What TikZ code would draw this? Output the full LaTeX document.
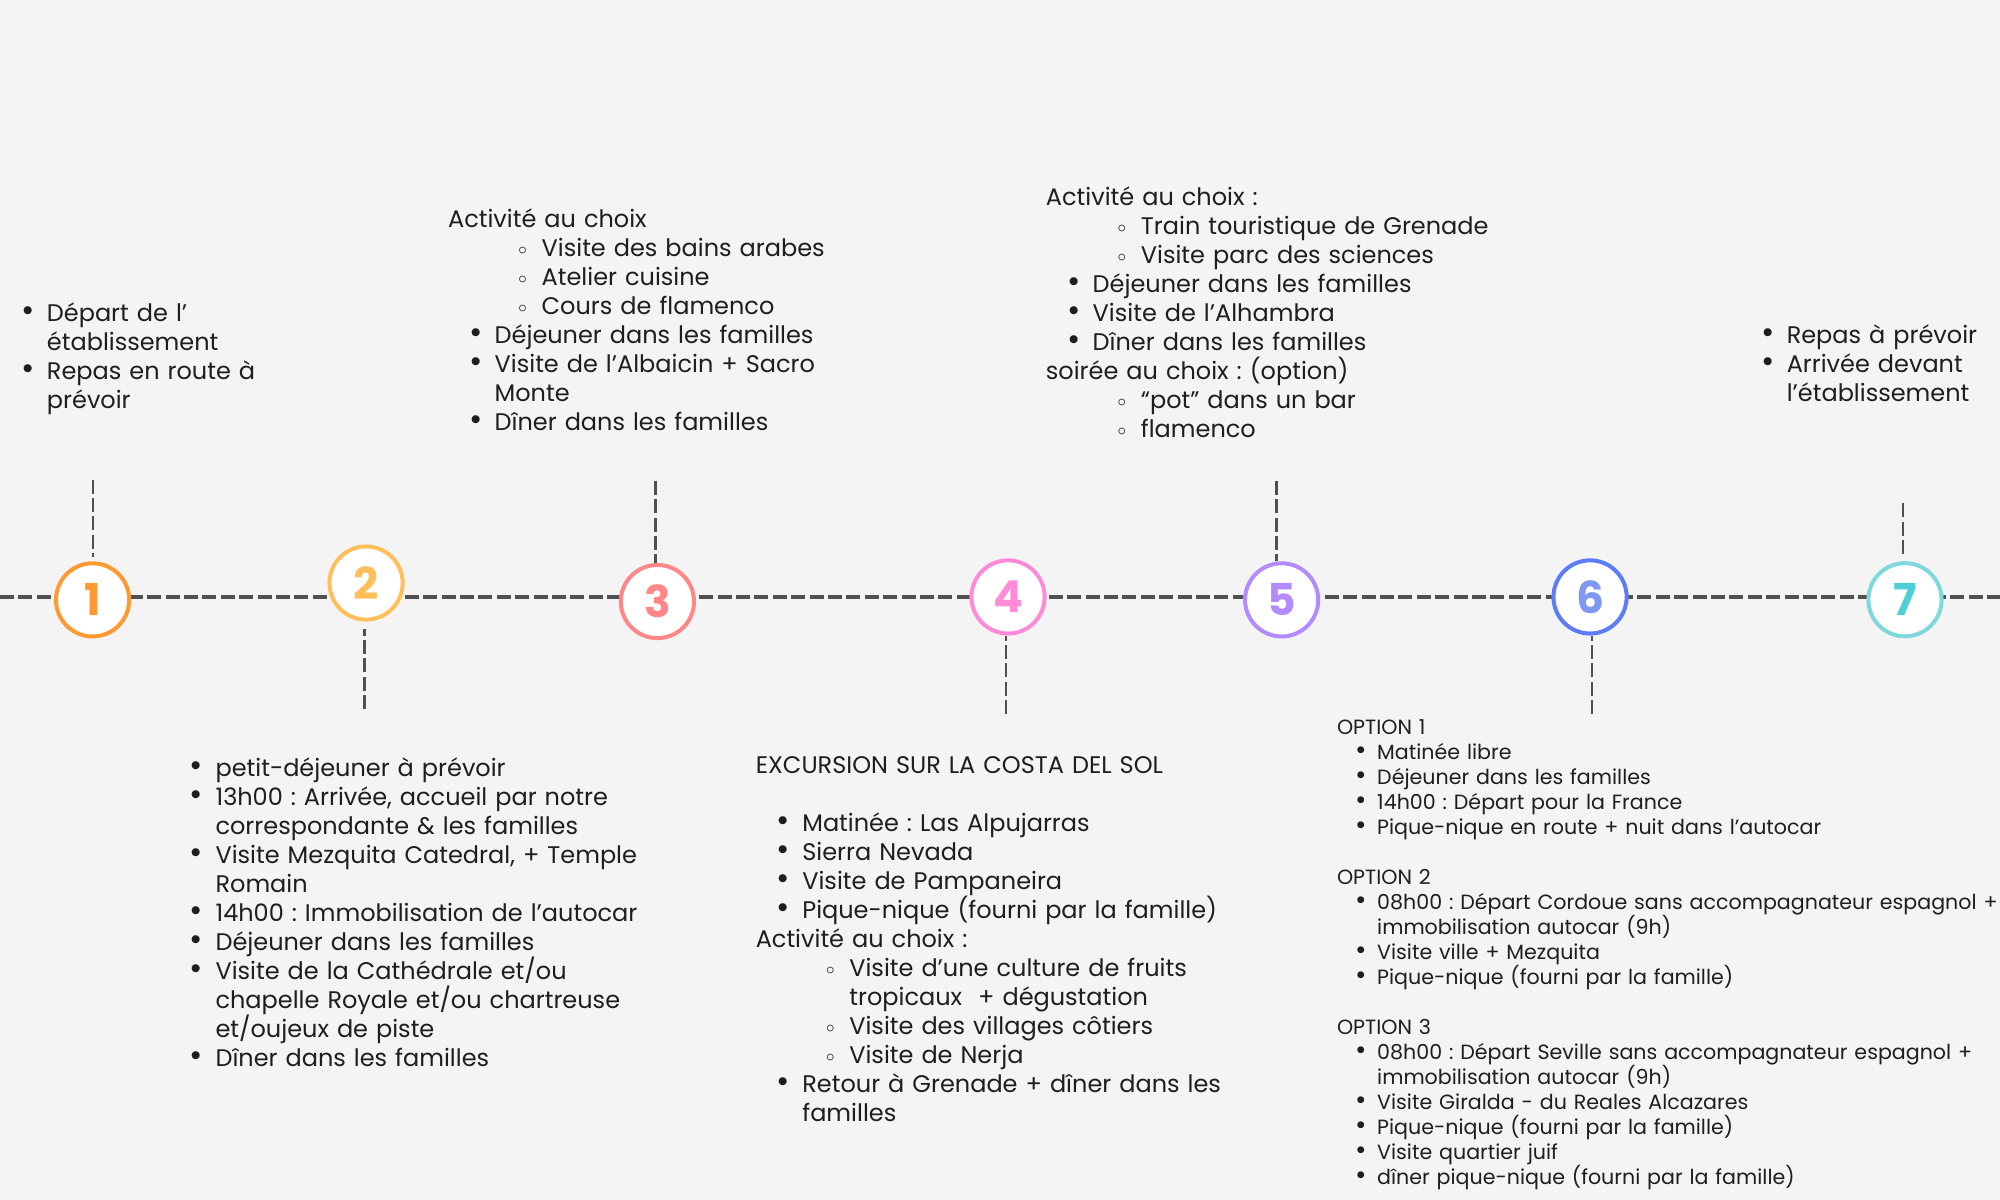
\documentclass[tikz,border=0pt]{standalone}
\usepackage{fontspec}
\setmainfont{Poppins}
\newfontfamily\chiffre{Poppins}
\frenchspacing
\normallineskiplimit=-100pt
\lineskiplimit=-100pt

\definecolor{fond}{HTML}{F4F4F4}
\definecolor{trait}{HTML}{505050}
\definecolor{texte}{HTML}{1E1E1E}
\definecolor{c1}{HTML}{FF9A33}
\definecolor{c2}{HTML}{FFC05C}
\definecolor{c3}{HTML}{FF8787}
\definecolor{c4}{HTML}{FF8AD8}
\definecolor{c5}{HTML}{B38BFF}
\definecolor{c6}{HTML}{5C7CFA}
\definecolor{c6n}{HTML}{7F98F2}
\definecolor{c7}{HTML}{7FD9DC}
\definecolor{c7n}{HTML}{4ECFD5}

\newlength{\puce}\setlength{\puce}{9.5pt}
\newcommand{\serre}{\lineskiplimit=-100pt\relax}
% puce pleine / puce creuse
\newcommand{\itm}[2]{\par\serre\noindent\hangindent=\dimexpr#1+\puce\relax\hspace*{#1}\makebox[\puce][l]{\makebox[0pt][c]{\scalebox{1.35}{\textbullet}}}\strut#2\par}
\newcommand{\sitm}[2]{\par\serre\noindent\hangindent=\dimexpr#1+\puce\relax\hspace*{#1}\makebox[\puce][l]{\makebox[0pt][c]{\raisebox{.15ex}{$\scriptstyle\circ$}}}\strut#2\par}
\newcommand{\titre}[1]{\par\serre\noindent\strut#1\par}
\newcommand{\vide}{\par\serre\noindent\strut\par}

\tikzset{
  liste/.style={anchor=north west,inner sep=0pt,text width=300pt,align=left,text=texte,
    font=\fontsize{12}{14.5}\selectfont},
  petite/.style={liste,text width=380pt,
    font=\fontsize{10.3}{12.5}\selectfont\setlength{\puce}{8.2pt}}
}

\begin{document}
\begin{tikzpicture}[x=0.6378pt,y=-0.6378pt]
        \useasboundingbox[fill=fond] (0,0) rectangle (1568,940.8);
        \coordinate (g) at (0,468);
        \coordinate (d) at (1568,468);
        \draw[trait,line width=1.6pt,dash pattern=on 7pt off 2.2pt] (g) -- (d);

        % jours
        \begin{scope}[every node/.style={circle,fill=white,line width=2pt,minimum size=36.6pt,inner sep=0pt,
            font=\chiffre\bfseries\fontsize{22}{22}\selectfont}]
        \node[draw=c1,text=c1] (n1) at (72.6,470.3) {1};
        \node[draw=c2,text=c2] (n2) at (287,457.1) {2};
        \node[draw=c3,text=c3] (n3) at (515.4,471.6) {3};
        \node[draw=c4,text=c4] (n4) at (790.3,468) {4};
        \node[draw=c5,text=c5] (n5) at (1004.8,470.3) {5};
        \node[draw=c6,text=c6n] (n6) at (1246.6,468) {6};
        \node[draw=c7,text=c7n] (n7) at (1493.5,470.2) {7};
        \end{scope}

        \coordinate (t1) at (72.8,376);
        \coordinate (b2) at (285.6,556);
        \coordinate (t3) at (513.8,377);
        \coordinate (b4) at (788.6,560);
        \coordinate (t5) at (1001,377);
        \coordinate (b6) at (1248,560);
        \coordinate (t7) at (1492,394.6);
        \begin{scope}[every edge/.style={draw=trait,line width=1.3pt,dash pattern=on 7pt off 2.2pt}]
        \path (t1) edge[shorten >=2.2pt] (t1 |- n1.north)
              (b2) edge[shorten >=3.5pt] (b2 |- n2.south)
              (t3) edge (t3 |- n3.north)
              (b4) edge (b4 |- n4.south)
              (t5) edge (t5 |- n5.north)
              (b6) edge (b6 |- n6.south)
              (t7) edge[shorten >=1.9pt] (t7 |- n7.north);
        \end{scope}

        % programme
        \node[liste] (j1) at (21.6,229.3) {%
          \itm{0pt}{Départ de l’\newline établissement}
          \itm{0pt}{Repas en route à\newline prévoir}};
        \node[liste] (j2) at (153.8,586) {%
          \itm{0pt}{petit-déjeuner à prévoir}
          \itm{0pt}{13h00 : Arrivée, accueil par notre\newline correspondante \& les familles}
          \itm{0pt}{Visite Mezquita Catedral, + Temple\newline Romain}
          \itm{0pt}{14h00 : Immobilisation de l’autocar}
          \itm{0pt}{Déjeuner dans les familles}
          \itm{0pt}{Visite de la Cathédrale et/ou\newline chapelle Royale et/ou chartreuse\newline et/oujeux de piste}
          \itm{0pt}{Dîner dans les familles}};
        \node[liste] (j3) at (351,155) {%
          \titre{Activité au choix}
          \sitm{37.3pt}{Visite des bains arabes}
          \sitm{37.3pt}{Atelier cuisine}
          \sitm{37.3pt}{Cours de flamenco}
          \itm{13.8pt}{Déjeuner dans les familles}
          \itm{13.8pt}{Visite de l’Albaicin + Sacro\newline Monte}
          \itm{13.8pt}{Dîner dans les familles}};
        \node[liste] (j4) at (592.2,583.4) {%
          \titre{EXCURSION SUR LA COSTA DEL SOL}
          \vide
          \itm{13.8pt}{Matinée : Las Alpujarras}
          \itm{13.8pt}{Sierra Nevada}
          \itm{13.8pt}{Visite de Pampaneira}
          \itm{13.8pt}{Pique-nique (fourni par la famille)}
          \titre{Activité au choix :}
          \sitm{37.3pt}{Visite d’une culture de fruits\newline tropicaux~ + dégustation}
          \sitm{37.3pt}{Visite des villages côtiers}
          \sitm{37.3pt}{Visite de Nerja}
          \itm{13.8pt}{Retour à Grenade + dîner dans les\newline familles}};
        \node[liste] (j5) at (819.7,138.4) {%
          \titre{Activité au choix :}
          \sitm{38pt}{Train touristique de Grenade}
          \sitm{38pt}{Visite parc des sciences}
          \itm{13.9pt}{Déjeuner dans les familles}
          \itm{13.9pt}{Visite de l’Alhambra}
          \itm{13.9pt}{Dîner dans les familles}
          \titre{soirée au choix : (option)}
          \sitm{38pt}{“pot” dans un bar}
          \sitm{38pt}{flamenco}};
        \node[petite] (j6) at (1047.9,556.3) {%
          \titre{OPTION 1}
          \itm{11.9pt}{Matinée libre}
          \itm{11.9pt}{Déjeuner dans les familles}
          \itm{11.9pt}{14h00 : Départ pour la France}
          \itm{11.9pt}{Pique-nique en route + nuit dans l’autocar}
          \vide
          \titre{OPTION 2}
          \itm{11.9pt}{08h00 : Départ Cordoue sans accompagnateur espagnol +\newline immobilisation autocar (9h)}
          \itm{11.9pt}{Visite ville + Mezquita}
          \itm{11.9pt}{Pique-nique (fourni par la famille)}
          \vide
          \titre{OPTION 3}
          \itm{11.9pt}{08h00 : Départ Seville sans accompagnateur espagnol +\newline immobilisation autocar (9h)}
          \itm{11.9pt}{Visite Giralda - du Reales Alcazares}
          \itm{11.9pt}{Pique-nique (fourni par la famille)}
          \itm{11.9pt}{Visite quartier juif}
          \itm{11.9pt}{dîner pique-nique (fourni par la famille)}};
        \node[liste] (j7) at (1385.6,246.3) {%
          \itm{0pt}{Repas à prévoir}
          \itm{0pt}{Arrivée devant\newline l’établissement}};
\end{tikzpicture}
\end{document}
